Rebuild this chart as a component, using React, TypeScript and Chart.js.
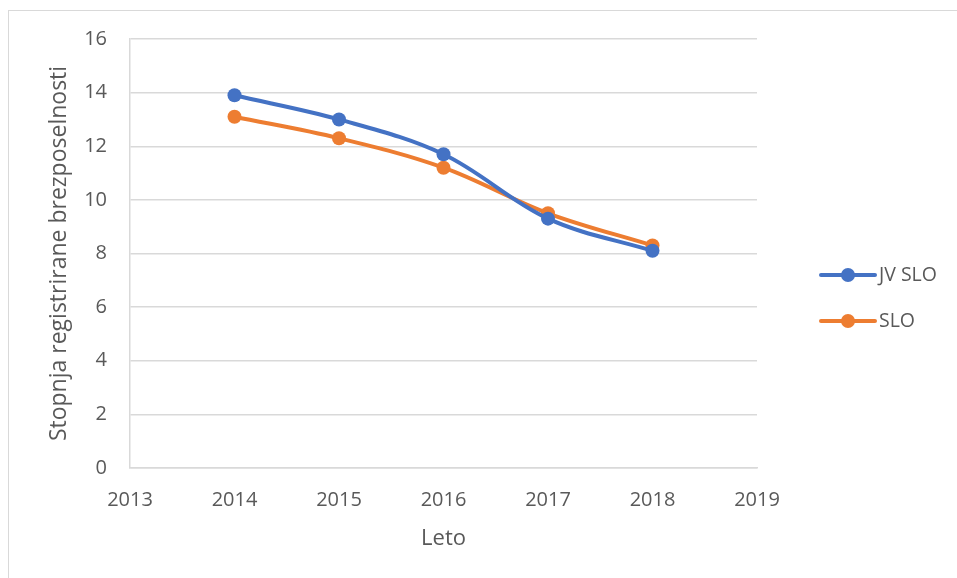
import React, { useEffect, useRef } from "react";
import { Chart, registerables } from "chart.js";

Chart.register(...registerables);

const years = [2014, 2015, 2016, 2017, 2018];
const jvSlo = [13.9, 13.0, 11.7, 9.3, 8.1];
const slo = [13.1, 12.3, 11.2, 9.5, 8.3];
const xTicks = [2013, 2014, 2015, 2016, 2017, 2018, 2019];
const yTicks = [0, 2, 4, 6, 8, 10, 12, 14, 16];
const seriesNames = ["JV SLO", "SLO"];
const seriesColors = ["#4472C4", "#ED7D31"];

const FONT = "'Open Sans'";
const TEXT = "#595959";
const GRID = "#d9d9d9";

const legendPlugin = {
  id: "excelLegend",
  afterDraw(chart: any) {
    const ctx = chart.ctx;
    const area = chart.chartArea;
    const x0 = area.right + 64;
    const ys = [275, 321];
    ctx.save();
    chart.data.datasets.forEach((ds: any, i: number) => {
      const y = ys[i];
      ctx.strokeStyle = ds.borderColor;
      ctx.lineWidth = 4;
      ctx.lineCap = "round";
      ctx.beginPath();
      ctx.moveTo(x0, y);
      ctx.lineTo(x0 + 54, y);
      ctx.stroke();
      ctx.fillStyle = ds.borderColor;
      ctx.beginPath();
      ctx.arc(x0 + 27, y, 7, 0, Math.PI * 2);
      ctx.fill();
      ctx.fillStyle = TEXT;
      ctx.font = `19.5px ${FONT}`;
      ctx.textAlign = "left";
      ctx.textBaseline = "middle";
      ctx.fillText(ds.label, x0 + 58, y);
    });
    ctx.restore();
  },
};

export default function App() {
  const ref = useRef<HTMLCanvasElement>(null);
  useEffect(() => {
    if (!ref.current) return;
    const chart = new Chart(ref.current, {
      type: "line",
      data: {
        datasets: [jvSlo, slo].map((vals, i) => ({
          label: seriesNames[i],
          data: vals.map((v, j) => ({ x: years[j], y: v })),
          borderColor: seriesColors[i],
          backgroundColor: seriesColors[i],
          pointBackgroundColor: seriesColors[i],
          pointBorderColor: seriesColors[i],
          pointRadius: 7,
          pointHoverRadius: 7,
          pointBorderWidth: 0,
          borderWidth: 4,
          tension: 0.35,
          fill: false,
        })),
      },
      options: {
        animation: false,
        responsive: false,
        maintainAspectRatio: false,
        layout: { padding: { left: 0, top: 39, right: 200, bottom: 0 } },
        plugins: { legend: { display: false }, tooltip: { enabled: false } },
        scales: {
          x: {
            type: "linear",
            min: 2013,
            max: 2019,
            afterBuildTicks: (s: any) => {
              s.ticks = xTicks.map((v) => ({ value: v }));
            },
            afterFit: (s: any) => {
              s.height = 110;
            },
            grid: { display: false, drawTicks: false },
            border: { display: true, color: GRID, width: 1.5 },
            ticks: {
              color: TEXT,
              font: { family: FONT, size: 20 },
              padding: 20,
              callback: (v: any) => String(v),
              maxRotation: 0,
            },
            title: {
              display: true,
              text: "Leto",
              color: TEXT,
              font: { family: FONT, size: 22 },
              padding: { top: 0, bottom: 26 },
            },
          },
          y: {
            min: 0,
            max: 16,
            afterBuildTicks: (s: any) => {
              s.ticks = yTicks.map((v) => ({ value: v }));
            },
            afterFit: (s: any) => {
              s.width = 130;
            },
            grid: { display: true, color: GRID, lineWidth: 1.5, drawTicks: false },
            border: { display: true, color: GRID, width: 1.5 },
            ticks: {
              color: TEXT,
              font: { family: FONT, size: 20 },
              padding: 23,
              callback: (v: any) => String(v),
            },
            title: {
              display: true,
              text: "Stopnja registrirane brezposelnosti",
              color: TEXT,
              font: { family: FONT, size: 23 },
              padding: { top: 46, bottom: 0 },
            },
          },
        },
      },
      plugins: [legendPlugin],
    });
    return () => chart.destroy();
  }, []);

  return (
    <div style={{ position: "fixed", left: 0, top: 0, width: 957, height: 578, overflow: "hidden", background: "#fff" }}>
      <div
        style={{
          position: "absolute",
          left: 8,
          top: 10,
          width: 980,
          height: 600,
          border: "1.5px solid #d9d9d9",
        }}
      />
      <canvas ref={ref} width={957} height={578} style={{ position: "absolute", left: 0, top: 0, width: 957, height: 578 }} />
    </div>
  );
}
